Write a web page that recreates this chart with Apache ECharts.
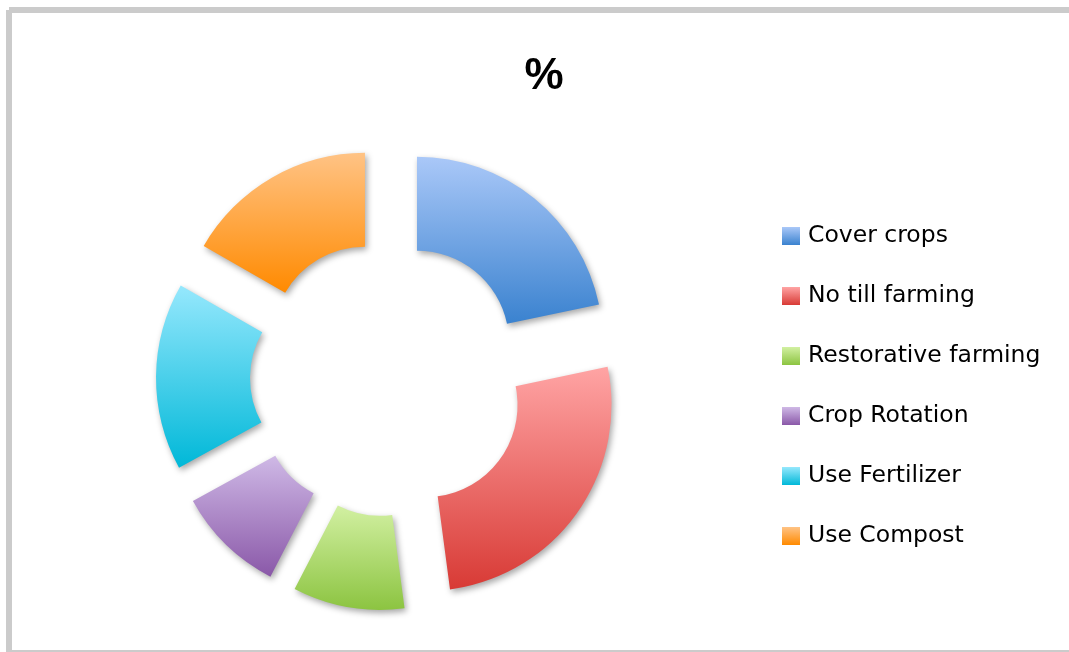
<!DOCTYPE html>
<html>
<head>
<meta charset="utf-8">
<style>
  html, body { margin: 0; padding: 0; background: #ffffff; }
  #chart { width: 1069px; height: 652px; }
</style>
<script src="https://cdn.jsdelivr.net/npm/echarts@6/dist/echarts.min.js"></script>
</head>
<body>
<div id="chart"></div>
<script>
// Share of farming practices (%)
const categories = ['Cover crops', 'No till farming', 'Restorative farming', 'Crop Rotation', 'Use Fertilizer', 'Use Compost'];
const shares = [21.7, 26.2, 9.7, 9.4, 16.3, 16.7];
const chartTitle = '%';

// Light-to-dark vertical gradient for each slice
const topColors = ['#aac8f8', '#ffa4a4', '#d2f0a2', '#cfb9e6', '#96e8fd', '#ffc385'];
const bottomColors = ['#3a82cf', '#d83a35', '#8cc441', '#8a58a8', '#00b8d8', '#ff8a00'];

function gradient(i) {
  return {
    type: 'linear', x: 0, y: 0, x2: 0, y2: 1,
    colorStops: [
      { offset: 0, color: topColors[i] },
      { offset: 1, color: bottomColors[i] }
    ]
  };
}

const pieData = categories.map((name, i) => ({
  name: name,
  value: shares[i],
  selected: true,
  itemStyle: { color: gradient(i) }
}));

const chart = echarts.init(document.getElementById('chart'), null, { renderer: 'canvas' });
chart.setOption({
  animation: false,
  backgroundColor: '#ffffff',
  title: {
    text: chartTitle,
    left: 539,
    top: 50,
    textAlign: 'center',
    textStyle: {
      fontFamily: 'Liberation Sans',
      fontWeight: 'bold',
      fontSize: 44,
      color: '#000000'
    }
  },
  legend: {
    orient: 'vertical',
    left: 777,
    top: 219,
    itemWidth: 18,
    itemHeight: 18,
    itemGap: 36,
    icon: 'rect',
    selectedMode: false,
    itemStyle: { shadowBlur: 0, shadowColor: 'transparent', shadowOffsetX: 0, shadowOffsetY: 0 },
    textStyle: {
      fontFamily: 'DejaVu Sans',
      fontSize: 23.5,
      lineHeight: 24,
      padding: [0, 0, 0, 3],
      color: '#000000'
    },
    data: categories
  },
  graphic: [
    { type: 'rect', shape: { x: 9, y: 7, width: 1060, height: 6 }, style: { fill: '#cbcbcb' }, silent: true },
    { type: 'rect', shape: { x: 6, y: 10, width: 6, height: 642 }, style: { fill: '#cbcbcb' }, silent: true },
    { type: 'rect', shape: { x: 9, y: 650, width: 1060, height: 2 }, style: { fill: '#cbcbcb' }, silent: true }
  ],
  series: [{
    type: 'pie',
    center: [388, 378.5],
    radius: [92, 186],
    startAngle: 90,
    clockwise: true,
    selectedMode: 'multiple',
    selectedOffset: 46,
    silent: true,
    label: { show: false },
    labelLine: { show: false },
    emphasis: { disabled: true },
    itemStyle: {
      shadowBlur: 6,
      shadowColor: 'rgba(0,0,0,0.35)',
      shadowOffsetX: 2,
      shadowOffsetY: 3
    },
    data: pieData
  }]
});
</script>
</body>
</html>
